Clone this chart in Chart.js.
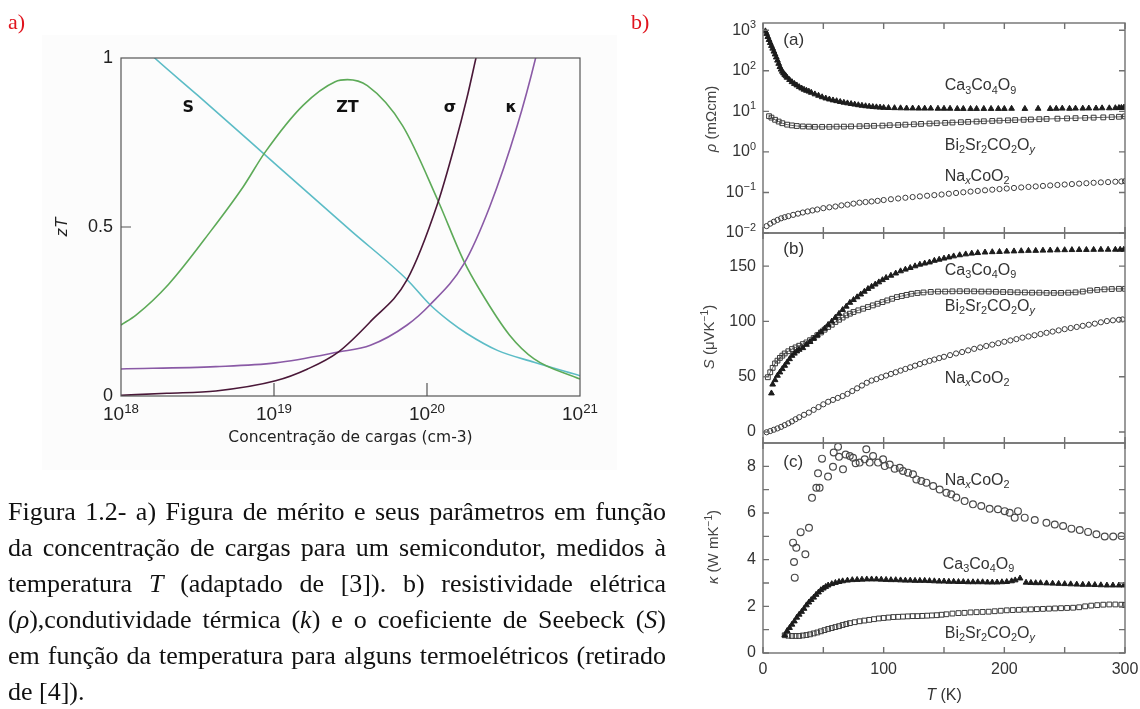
<!DOCTYPE html>
<html lang="pt">
<head>
<meta charset="UTF-8">
<title>Figura 1.2 - zT e propriedades termoelétricas</title>
<script src="https://cdn.jsdelivr.net/npm/chart.js"></script>
<style>
  body {
    margin: 0;
    width: 1140px;
    height: 709px;
    position: relative;
    overflow: hidden;
    background: #fff;
    font-family: "Liberation Serif", "Times New Roman", serif;
  }
  canvas { position: absolute; left: 0; top: 0; }
  .tag { position: absolute; top: 9px; color: #e0141e; font-size: 22px; line-height: 26px; }
  .bg-a { position: absolute; left: 42px; top: 35px; width: 575px; height: 435px; background: #fcfcfc; }
  .caption {
    position: absolute;
    left: 8px;
    top: 494px;
    width: 658px;
    font-size: 26px;
    line-height: 36px;
    color: #111;
  }
  .caption div { text-align: justify; text-align-last: justify; }
  .caption div.last { text-align-last: left; }
</style>
</head>
<body>

<div class="bg-a"></div>
<canvas id="chartZT" width="1140" height="709"></canvas>
<canvas id="chartRho" width="1140" height="709"></canvas>
<canvas id="chartS" width="1140" height="709"></canvas>
<canvas id="chartK" width="1140" height="709"></canvas>

<div class="tag" style="left:8px">a)</div>
<div class="tag" style="left:631px">b)</div>

<div class="caption">
  <div>Figura 1.2- a) Figura de mérito e seus parâmetros em função</div>
  <div>da concentração de cargas para um semicondutor, medidos à</div>
  <div>temperatura <i>T</i> (adaptado de [3]). b) resistividade elétrica</div>
  <div>(<i>ρ</i>),condutividade térmica (<i>k</i>) e o coeficiente de Seebeck (<i>S</i>)</div>
  <div>em função da temperatura para alguns termoelétricos (retirado</div>
  <div class="last">de [4]).</div>
</div>

<script>
// ---------- (a) figura de mérito x concentração (log10 n) ----------
const nTicks = [18, 19, 20, 21];
const ztTicks = [0, 0.5, 1];
const ztTickText = ['0', '0.5', '1'];

const logN_S = [18.15, 18.22, 18.5, 19.0, 19.5, 19.87, 20.02, 20.15, 20.26, 20.46, 20.7, 21.0];
const zt_S   = [1.03, 1.0, 0.89, 0.69, 0.49, 0.344, 0.27, 0.22, 0.185, 0.135, 0.10, 0.06];

const logN_ZT = [18.0, 18.1, 18.31, 18.59, 18.8, 18.94, 19.19, 19.4, 19.48, 19.61, 19.84, 20.07, 20.24, 20.35, 20.54, 20.7, 21.0];
const zt_ZT   = [0.21, 0.24, 0.33, 0.49, 0.62, 0.72, 0.86, 0.93, 0.936, 0.918, 0.80, 0.58, 0.40, 0.31, 0.18, 0.11, 0.05];

const logN_sig = [18.0, 18.3, 18.62, 19.01, 19.22, 19.42, 19.63, 19.87, 20.07, 20.18, 20.26, 20.32, 20.37];
const zt_sig   = [0.002, 0.008, 0.015, 0.045, 0.08, 0.13, 0.22, 0.344, 0.57, 0.74, 0.88, 1.0, 1.1];

const logN_kap = [18.0, 18.62, 19.01, 19.42, 19.63, 19.87, 20.02, 20.24, 20.41, 20.59, 20.71, 20.76];
const zt_kap   = [0.08, 0.087, 0.098, 0.13, 0.15, 0.21, 0.27, 0.39, 0.56, 0.80, 1.0, 1.1];

// ---------- (b) rho, S, kappa x T ----------
const tempTicks = [0, 50, 100, 150, 200, 250, 300];
const tempLabels = [0, 100, 200, 300];
const rhoTicks = [0.01, 0.1, 1, 10, 100, 1000];
const rhoTickExp = ['\u22122', '\u22121', '0', '1', '2', '3'];
const seebeckTicks = [0, 50, 100, 150];
const kappaTicks = [0, 1, 2, 3, 4, 5, 6, 7, 8];
const kappaLabels = [0, 2, 4, 6, 8];

// resistividade (mOhm cm)
const rhoT_ca = [2, 3, 4, 5, 6, 7, 8, 9, 10, 11, 12, 13, 14, 15, 16, 17, 18, 19, 20, 22, 24, 26, 28, 30, 32, 34, 36, 38, 40, 43, 46, 49, 52, 55, 58, 61, 64, 67, 70, 73, 76, 79, 82, 85, 88, 91, 94, 97, 100,
  104, 109, 114, 119, 124, 129, 134, 139, 145, 150, 155, 161, 166, 172, 177, 183, 189, 195, 200, 206, 217, 228, 238, 243, 248, 254, 259, 265, 270, 276, 281, 287, 292, 295, 297, 299, 300];
const rho_ca = [950, 820, 690, 580, 490, 415, 355, 300, 255, 215, 180, 150, 125, 108, 96, 87, 80, 74, 68, 60, 53, 48, 44, 40, 37, 34.5, 32.5, 31, 29, 26.5, 24.5, 22.5, 21, 19.8, 18.8, 18, 17.2, 16.5, 15.9, 15.3, 14.8, 14.3, 13.9, 13.5, 13.2, 12.9, 12.7, 12.5, 12.3,
  12.2, 12.1, 12.0, 11.9, 11.9, 11.8, 11.8, 11.8, 11.7, 11.7, 11.7, 11.6, 11.6, 11.6, 11.6, 11.6, 11.6, 11.6, 11.6, 11.7, 11.6, 11.7, 11.6, 11.7, 11.8, 11.7, 11.8, 11.8, 11.9, 11.9, 12.0, 12.0, 12.1, 12.2, 12.3, 12.4, 12.5];

const rhoT_bi = [5, 7, 10, 13, 16, 20, 24, 28, 33, 38, 43, 49, 55, 61, 67, 73, 80, 86, 92, 99, 105, 112, 118, 125, 131, 138, 144, 151, 157, 164, 170, 177, 183, 190, 196, 203, 209, 216, 222, 229, 235, 244, 252, 259, 267, 274, 282, 289, 295, 300];
const rho_bi = [7.6, 7.0, 6.2, 5.6, 5.1, 4.7, 4.5, 4.35, 4.25, 4.2, 4.15, 4.15, 4.15, 4.2, 4.2, 4.25, 4.3, 4.35, 4.4, 4.45, 4.55, 4.6, 4.7, 4.8, 4.9, 5.0, 5.1, 5.2, 5.3, 5.4, 5.5, 5.6, 5.7, 5.8, 5.9, 6.0, 6.1, 6.2, 6.3, 6.4, 6.5, 6.6, 6.7, 6.8, 6.9, 7.0, 7.1, 7.2, 7.35, 7.5];

const rhoT_na = [3, 6, 9, 12, 15, 18, 21, 25, 29, 33, 37, 41, 45, 50, 55, 60, 65, 70, 75, 80, 85, 90, 95, 100, 106, 112, 118, 124, 130, 136, 142, 148, 154, 160, 166, 172, 178, 184, 190, 196, 202, 208, 214, 220, 226, 232, 238, 244, 250, 256, 262, 268, 274, 280, 286, 292, 297, 300];
const rho_na = [0.0148, 0.017, 0.019, 0.021, 0.023, 0.0245, 0.026, 0.028, 0.030, 0.032, 0.034, 0.036, 0.038, 0.041, 0.043, 0.045, 0.048, 0.050, 0.053, 0.056, 0.058, 0.060, 0.062, 0.065, 0.068, 0.071, 0.074, 0.077, 0.080, 0.083, 0.086, 0.089, 0.093, 0.097, 0.101, 0.105, 0.109, 0.113, 0.117, 0.121, 0.125, 0.129, 0.133, 0.137, 0.141, 0.145, 0.149, 0.153, 0.157, 0.161, 0.165, 0.169, 0.173, 0.177, 0.180, 0.184, 0.187, 0.19];

// coeficiente de Seebeck (uV/K)
const sT_ca = [7, 8, 10, 12, 14, 16, 18, 20, 22, 24, 26, 28, 30, 33, 36, 39, 42, 45, 48, 51, 54, 57, 60, 63, 66, 69, 72, 75, 78, 81, 84, 87, 90, 93, 96, 99, 102, 106, 110, 114, 118, 122, 126, 130, 134, 138, 142, 146, 150, 154, 158, 163, 168, 173, 178, 184, 190, 196, 202, 208, 214, 220, 226, 232, 238, 244, 250, 256, 262, 268, 274, 280, 286, 292, 296, 299];
const s_ca = [35, 43, 47, 51, 54, 57, 60, 63, 66, 69, 71, 73, 74.5, 76, 79, 81.5, 84.5, 87.5, 90.5, 93.5, 97, 100, 103.5, 107, 110.5, 113.5, 117, 119.5, 122, 124.5, 127, 129.5, 131.5, 133.5, 135.5, 137.5, 139.5, 141.5, 143.5, 145.5, 147, 148.5, 150, 151.5, 152.5, 153.5, 155, 156, 157, 158, 159, 160, 160.8, 161.5, 162, 162.5, 162.8, 163, 163.3, 163.5, 163.7, 164, 164, 164.2, 164.3, 164.5, 164.6, 164.7, 164.8, 164.8, 164.9, 165, 165, 165, 165, 165];

const sT_bi = [4, 6, 8, 10, 12, 14, 16, 18, 21, 24, 27, 30, 33, 36, 39, 42, 45, 48, 51, 54, 57, 60, 63, 66, 69, 72, 75, 79, 83, 87, 91, 95, 99, 103, 107, 111, 115, 119, 123, 128, 133, 139, 145, 151, 157, 163, 169, 175, 181, 187, 193, 199, 205, 211, 217, 223, 229, 235, 241, 247, 253, 259, 265, 271, 277, 283, 289, 295, 300];
const s_bi = [49.5, 54, 58, 62, 64.5, 67, 69, 71, 73, 75, 76.5, 78, 79.5, 81, 83, 85, 87.5, 90, 92.5, 95, 97, 99.5, 101.5, 103.5, 105.5, 107, 108.5, 110, 111.5, 113, 114.5, 116, 117.5, 119, 120.5, 122, 123, 124, 125, 125.7, 126.2, 126.7, 127, 127, 127.2, 127.3, 127.3, 127.2, 127, 127, 126.8, 126.6, 126.5, 126.3, 126.2, 126, 126, 125.8, 125.8, 125.8, 126, 126.3, 127, 128, 128.5, 129, 129.3, 129.5, 129.5];

const sT_na = [3, 6, 9, 12, 15, 18, 21, 24, 27, 30, 34, 38, 42, 46, 50, 54, 58, 62, 66, 70, 74, 78, 82, 86, 90, 94, 98, 102, 106, 110, 114, 118, 122, 126, 130, 134, 138, 142, 146, 150, 155, 160, 165, 170, 175, 180, 185, 190, 195, 200, 205, 210, 215, 220, 225, 230, 235, 240, 245, 250, 255, 260, 265, 270, 275, 280, 285, 290, 295, 298];
const s_na = [-0.3, 0.8, 2, 3.2, 4.6, 6.2, 7.8, 9.5, 11.5, 13.3, 15.5, 17.5, 20, 22.5, 25, 27.3, 29, 30.8, 32.5, 34.5, 37, 39.5, 42, 44.5, 46.5, 47.8, 49.5, 51, 52.5, 54, 55.5, 57, 58.5, 60, 61.5, 63, 64.3, 65.5, 66.8, 68, 69.5, 71, 72.3, 73.8, 75.2, 76.5, 77.8, 79, 80.3, 81.6, 82.8, 84, 85.3, 86.4, 87.5, 88.6, 89.7, 90.8, 91.9, 93, 94, 95, 96, 97, 98, 99.2, 100.3, 101, 101.5, 101.8];

// condutividade termica (W/mK)
const kT_na = [24.9, 25.7, 26.3, 27.6, 31.2, 35.1, 38.1, 40.6, 44.2, 45.6, 46.9, 48.9, 53.9, 58, 58.6, 62.2, 63, 66.3, 68.5, 71.9, 74.6, 76.8, 80.1, 84.3, 85.6, 88.4, 91.2, 95.3, 99.5, 100.9, 105, 109.1, 113.3, 116, 120.2, 124.3, 127.1, 131.2, 135.4, 141, 146.4, 152, 156, 160.2, 167.1, 174, 180.9, 187.8, 194.7, 200.3, 204.4, 208.6, 211.3, 216.9, 225.2, 234.9, 241.8, 248.7, 255.6, 262.5, 269.4, 276.3, 283.2, 290.2, 297.1];
const k_na = [4.73, 3.9, 3.23, 4.51, 5.18, 4.23, 5.37, 6.65, 7.08, 7.7, 7.08, 8.33, 7.56, 7.98, 8.59, 8.84, 8.41, 7.87, 8.51, 8.44, 8.37, 8.13, 8.16, 8.30, 8.73, 8.16, 8.44, 8.16, 8.30, 8.01, 8.08, 7.90, 7.94, 7.80, 7.73, 7.66, 7.44, 7.37, 7.30, 7.16, 7.01, 6.87, 6.80, 6.66, 6.51, 6.37, 6.30, 6.18, 6.16, 6.08, 6.01, 5.80, 6.08, 5.80, 5.70, 5.58, 5.51, 5.44, 5.33, 5.27, 5.19, 5.09, 4.99, 4.99, 5.01];

const kT_ca = [18, 20, 22, 24, 26, 28, 30, 32, 34, 36, 38, 40, 42, 44, 46, 48, 50, 52, 54, 57, 60, 63, 66, 70, 74, 78, 82, 86, 90, 94, 98, 102, 106, 110, 114, 118, 122, 126, 130, 134, 138, 142, 146, 150, 154, 158, 162, 166, 170, 174, 178, 182, 186, 190, 194, 198, 202, 206, 209, 213, 218, 222, 226, 230, 235, 240, 245, 250, 255, 260, 265, 270, 275, 280, 285, 290, 295, 299];
const k_ca = [0.76, 0.95, 1.08, 1.22, 1.36, 1.52, 1.65, 1.77, 1.9, 2.05, 2.17, 2.28, 2.38, 2.5, 2.6, 2.7, 2.77, 2.84, 2.9, 2.96, 3.01, 3.05, 3.08, 3.11, 3.13, 3.14, 3.15, 3.16, 3.16, 3.16, 3.15, 3.14, 3.13, 3.13, 3.12, 3.11, 3.11, 3.1, 3.1, 3.1, 3.09, 3.08, 3.07, 3.07, 3.06, 3.06, 3.05, 3.05, 3.04, 3.04, 3.04, 3.04, 3.03, 3.03, 3.03, 3.04, 3.05, 3.08, 3.12, 3.2, 3.02, 3.01, 3.0, 3.0, 2.99, 2.98, 2.97, 2.96, 2.95, 2.94, 2.93, 2.93, 2.92, 2.91, 2.9, 2.9, 2.9, 2.9];

const kT_bi = [18, 21, 24, 27, 30, 33, 36, 39, 42, 45, 48, 51, 54, 57, 60, 63, 66, 69, 72, 76, 80, 84, 88, 92, 96, 100, 104, 108, 112, 116, 120, 124, 128, 132, 136, 140, 144, 148, 152, 157, 162, 167, 172, 177, 182, 187, 192, 197, 202, 207, 212, 217, 222, 227, 232, 237, 242, 247, 252, 257, 262, 267, 272, 277, 282, 287, 292, 297, 300];
const k_bi = [0.76, 0.74, 0.73, 0.73, 0.73, 0.75, 0.77, 0.8, 0.84, 0.88, 0.93, 0.98, 1.03, 1.07, 1.11, 1.15, 1.2, 1.24, 1.28, 1.32, 1.36, 1.39, 1.42, 1.45, 1.48, 1.5, 1.52, 1.54, 1.55, 1.56, 1.57, 1.58, 1.58, 1.59, 1.6, 1.61, 1.62, 1.64, 1.66, 1.69, 1.71, 1.72, 1.74, 1.75, 1.76, 1.77, 1.79, 1.81, 1.83, 1.84, 1.85, 1.86, 1.87, 1.88, 1.89, 1.9, 1.91, 1.92, 1.93, 1.94, 1.96, 2.0, 2.03, 2.05, 2.07, 2.08, 2.08, 2.07, 2.06];

const SANS = '"Liberation Sans", Arial, Helvetica, sans-serif';
const DEJAVU = '"DejaVu Sans", Verdana, sans-serif';

const sub = t => ({ t, sub: true });
const sup = t => ({ t, sup: true });
const it = t => ({ t, it: true });

const caName = ['Ca', sub('3'), 'Co', sub('4'), 'O', sub('9')];
const biName = ['Bi', sub('2'), 'Sr', sub('2'), 'CO', sub('2'), 'O', { t: 'y', sub: true, it: true }];
const naName = ['Na', { t: 'x', sub: true, it: true }, 'CoO', sub('2')];

// draws a run of text pieces (plain / italic / sub / sup) centred on y
function richText(ctx, parts, x, y, size, o = {}) {
  const fam = o.family || SANS;
  const small = size * (o.small || 0.68);
  const segs = parts.map(p => {
    const s = typeof p === 'string' ? { t: p } : p;
    const fs = (s.sub || s.sup) ? small : size;
    const font = (s.it ? 'italic ' : '') + (o.weight || 'normal') + ' ' + fs + 'px ' + fam;
    ctx.font = font;
    const dy = s.sub ? size * 0.28 : s.sup ? -size * (o.rise || 0.32) : 0;
    return { t: s.t, font, dy, w: ctx.measureText(s.t).width };
  });
  const total = segs.reduce((a, s) => a + s.w, 0);
  ctx.save();
  ctx.translate(x, y);
  if (o.rotate) ctx.rotate(o.rotate);
  ctx.fillStyle = o.color || '#222';
  ctx.textBaseline = 'middle';
  let cx = o.align === 'right' ? -total : o.align === 'left' ? 0 : -total / 2;
  segs.forEach(s => { ctx.font = s.font; ctx.fillText(s.t, cx, s.dy); cx += s.w; });
  ctx.restore();
}

const pts = (xs, ys) => xs.map((x, i) => ({ x, y: ys[i] }));

function baseOptions(pad, xScale, yScale) {
  return {
    responsive: false,
    animation: false,
    events: [],
    layout: { padding: pad },
    plugins: { legend: { display: false }, tooltip: { enabled: false } },
    scales: {
      x: Object.assign({ type: 'linear', display: false }, xScale),
      y: Object.assign({ type: 'linear', display: false }, yScale)
    }
  };
}

// ---------- chart (a) ----------
function curve(xs, ys, color) {
  return {
    data: pts(xs, ys),
    showLine: true,
    borderColor: color,
    borderWidth: 1.6,
    pointRadius: 0,
    cubicInterpolationMode: 'monotone'
  };
}

new Chart(document.getElementById('chartZT'), {
  type: 'scatter',
  data: {
    datasets: [
      curve(logN_sig, zt_sig, '#4a1838'),
      curve(logN_kap, zt_kap, '#8a5aa6'),
      curve(logN_ZT, zt_ZT, '#5daa58'),
      curve(logN_S, zt_S, '#5cbcc6')
    ]
  },
  options: baseOptions({ left: 121, right: 560, top: 58, bottom: 313 }, { min: 18, max: 21 }, { min: 0, max: 1 }),
  plugins: [{
    id: 'ztDecor',
    afterDraw(chart) {
      const { ctx, chartArea: a, scales: { x, y } } = chart;
      ctx.save();
      ctx.strokeStyle = '#555';
      ctx.lineWidth = 1.2;
      ctx.strokeRect(a.left, a.top, a.right - a.left, a.bottom - a.top);
      ctx.beginPath();
      const py = y.getPixelForValue(0.5);
      ctx.moveTo(a.left, py); ctx.lineTo(a.left + 10, py);
      [19, 20].forEach(v => {
        const px = x.getPixelForValue(v);
        ctx.moveTo(px, a.bottom); ctx.lineTo(px, a.bottom - 13);
      });
      ctx.stroke();
      ctx.restore();

      ztTicks.forEach((v, i) => richText(ctx, [ztTickText[i]], a.left - 8, y.getPixelForValue(v), 18, { align: 'right' }));
      nTicks.forEach(v => richText(ctx, ['10', sup(String(v))], x.getPixelForValue(v), a.bottom + 19, 19, { small: 0.7, rise: 0.3 }));
      richText(ctx, ['Concentração de cargas (cm-3)'], (a.left + a.right) / 2, a.bottom + 42, 15.5, { family: DEJAVU });
      richText(ctx, [it('zT')], 62, (a.top + a.bottom) / 2, 17, { rotate: -Math.PI / 2 });

      const lab = { family: DEJAVU, weight: 'bold', color: '#111' };
      richText(ctx, ['S'], x.getPixelForValue(18.44), y.getPixelForValue(0.853), 16, lab);
      richText(ctx, ['ZT'], x.getPixelForValue(19.48), y.getPixelForValue(0.853), 16, lab);
      richText(ctx, ['σ'], x.getPixelForValue(20.15), y.getPixelForValue(0.853), 16, lab);
      richText(ctx, ['κ'], x.getPixelForValue(20.55), y.getPixelForValue(0.853), 16, lab);
    }
  }]
});

// ---------- panels (b) ----------
const tri = { pointStyle: 'triangle', pointRadius: 3.3, backgroundColor: '#1c1c1c', borderColor: '#1c1c1c', pointBorderWidth: 1, showLine: false };
const sqLine = { pointStyle: 'rect', pointRadius: 3.4, backgroundColor: 'rgba(255,255,255,0)', borderColor: '#3a3a3a', pointBorderWidth: 1, borderWidth: 0.8, showLine: true };
const sq = { pointStyle: 'rect', pointRadius: 3.4, backgroundColor: 'rgba(255,255,255,0)', borderColor: '#3a3a3a', pointBorderWidth: 1, showLine: false };
const ringSmall = { pointStyle: 'circle', pointRadius: 2.6, backgroundColor: 'rgba(255,255,255,0)', borderColor: '#3a3a3a', pointBorderWidth: 1, showLine: false };
const ring = { pointStyle: 'circle', pointRadius: 3.4, backgroundColor: 'rgba(255,255,255,0)', borderColor: '#4a4a4a', pointBorderWidth: 1.2, showLine: false };

function panelFrame(chart, yTicks) {
  const { ctx, chartArea: a, scales: { x, y } } = chart;
  ctx.save();
  ctx.strokeStyle = '#707070';
  ctx.lineWidth = 1.4;
  ctx.strokeRect(a.left, a.top, a.right - a.left, a.bottom - a.top);
  ctx.beginPath();
  tempTicks.forEach(v => {
    const px = x.getPixelForValue(v);
    ctx.moveTo(px, a.top); ctx.lineTo(px, a.top + 6);
    ctx.moveTo(px, a.bottom); ctx.lineTo(px, a.bottom - 6);
  });
  yTicks.forEach(v => {
    const py = y.getPixelForValue(v);
    ctx.moveTo(a.left, py); ctx.lineTo(a.left + 6, py);
    ctx.moveTo(a.right, py); ctx.lineTo(a.right - 6, py);
  });
  ctx.stroke();
  ctx.restore();
}

const tickText = { align: 'right', color: '#333' };
const seriesText = { align: 'left', color: '#333' };

new Chart(document.getElementById('chartRho'), {
  type: 'scatter',
  data: {
    datasets: [
      Object.assign({ data: pts(rhoT_ca, rho_ca) }, tri),
      Object.assign({ data: pts(rhoT_bi, rho_bi) }, sqLine),
      Object.assign({ data: pts(rhoT_na, rho_na) }, ringSmall)
    ]
  },
  options: baseOptions({ left: 763, right: 15, top: 23, bottom: 476 }, { min: 0, max: 300 }, { type: 'logarithmic', min: 0.01, max: 1510 }),
  plugins: [{
    id: 'rhoDecor',
    afterDraw(chart) {
      const { ctx, chartArea: a, scales: { x, y } } = chart;
      panelFrame(chart, rhoTicks);
      rhoTicks.forEach((v, i) => richText(ctx, ['10', sup(rhoTickExp[i])], a.left - 7, y.getPixelForValue(v), 16, tickText));
      richText(ctx, [it('ρ'), ' (mΩcm)'], a.left - 51, 119, 15, { rotate: -Math.PI / 2, color: '#444' });
      richText(ctx, ['(a)'], x.getPixelForValue(25.4), y.getPixelForValue(560), 17, { color: '#333' });
      richText(ctx, caName, x.getPixelForValue(150.6), y.getPixelForValue(42), 16, seriesText);
      richText(ctx, biName, x.getPixelForValue(150.6), y.getPixelForValue(1.47), 16, seriesText);
      richText(ctx, naName, x.getPixelForValue(150.6), y.getPixelForValue(0.25), 16, seriesText);
    }
  }]
});

new Chart(document.getElementById('chartS'), {
  type: 'scatter',
  data: {
    datasets: [
      Object.assign({ data: pts(sT_ca, s_ca) }, tri),
      Object.assign({ data: pts(sT_bi, s_bi) }, sqLine),
      Object.assign({ data: pts(sT_na, s_na) }, ringSmall)
    ]
  },
  options: baseOptions({ left: 763, right: 15, top: 233, bottom: 266 }, { min: 0, max: 300 }, { min: -10, max: 180 }),
  plugins: [{
    id: 'seebeckDecor',
    afterDraw(chart) {
      const { ctx, chartArea: a, scales: { x, y } } = chart;
      panelFrame(chart, seebeckTicks);
      seebeckTicks.forEach(v => richText(ctx, [String(v)], a.left - 7, y.getPixelForValue(v), 16, tickText));
      richText(ctx, [it('S'), ' (μVK', sup('\u22121'), ')'], a.left - 53, 337, 15, { rotate: -Math.PI / 2, color: '#444' });
      richText(ctx, ['(b)'], x.getPixelForValue(25.4), y.getPixelForValue(164.9), 17, { color: '#333' });
      richText(ctx, caName, x.getPixelForValue(150.6), y.getPixelForValue(146.3), 16, seriesText);
      richText(ctx, biName, x.getPixelForValue(150.6), y.getPixelForValue(113.8), 16, seriesText);
      richText(ctx, naName, x.getPixelForValue(150.6), y.getPixelForValue(48.6), 16, seriesText);
    }
  }]
});

new Chart(document.getElementById('chartK'), {
  type: 'scatter',
  data: {
    datasets: [
      Object.assign({ data: pts(kT_ca, k_ca) }, tri),
      Object.assign({ data: pts(kT_bi, k_bi) }, sq),
      Object.assign({ data: pts(kT_na, k_na) }, ring)
    ]
  },
  options: baseOptions({ left: 763, right: 15, top: 443, bottom: 56 }, { min: 0, max: 300 }, { min: 0, max: 9 }),
  plugins: [{
    id: 'kappaDecor',
    afterDraw(chart) {
      const { ctx, chartArea: a, scales: { x, y } } = chart;
      panelFrame(chart, kappaTicks);
      kappaLabels.forEach(v => richText(ctx, [String(v)], a.left - 7, y.getPixelForValue(v), 16, tickText));
      tempLabels.forEach(v => richText(ctx, [String(v)], x.getPixelForValue(v), a.bottom + 17, 16, { color: '#333' }));
      richText(ctx, [it('T'), ' (K)'], (a.left + a.right) / 2, a.bottom + 43, 16, { color: '#333' });
      richText(ctx, [it('κ'), ' (W mK', sup('\u22121'), ')'], a.left - 49, 547, 15, { rotate: -Math.PI / 2, color: '#444' });
      richText(ctx, ['(c)'], x.getPixelForValue(25), y.getPixelForValue(8.16), 17, { color: '#333' });
      richText(ctx, naName, x.getPixelForValue(150.6), y.getPixelForValue(7.39), 16, seriesText);
      richText(ctx, caName, x.getPixelForValue(149), y.getPixelForValue(3.78), 16, seriesText);
      richText(ctx, biName, x.getPixelForValue(150.6), y.getPixelForValue(0.83), 16, seriesText);
    }
  }]
});
</script>
</body>
</html>
